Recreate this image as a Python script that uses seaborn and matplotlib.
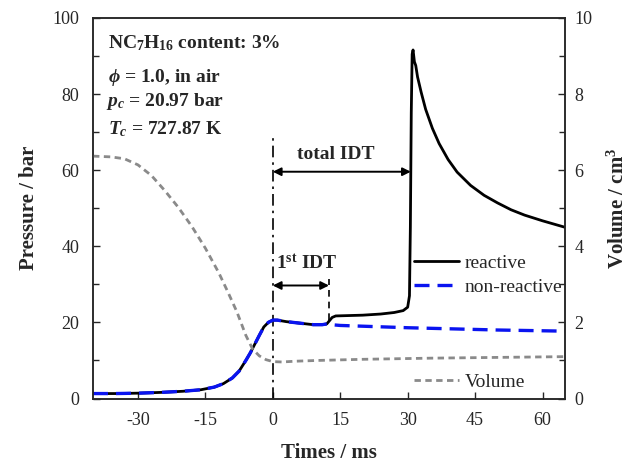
import numpy as np
import pandas as pd
import matplotlib
matplotlib.use("Agg")
import matplotlib.pyplot as plt
from matplotlib.ticker import MultipleLocator
from matplotlib.lines import Line2D
import seaborn as sns

# ---- data ----
# shared compression phase (reactive and non-reactive overlap)
t_comp = [-40, -35, -30, -25, -20, -16, -13, -11, -9, -7.5, -6, -5, -4, -3, -2, -1, 0,
          1, 3, 6, 9, 11, 12]
p_comp = [1.3, 1.3, 1.4, 1.6, 1.9, 2.3, 3.0, 3.9, 5.4, 7.2, 10.0, 12.0, 14.3, 16.6, 18.8, 20.0, 20.6,
          20.6, 20.2, 19.8, 19.4, 19.4, 19.6]
# reactive after first-stage ignition
t_react = [12.5, 13.2, 14, 17, 20, 24, 27, 29, 30, 30.4, 30.6, 30.8, 31.0, 31.2, 31.5, 31.8,
           32.2, 33, 34, 35.5, 37, 39, 41, 44, 47, 50, 53, 56, 60, 65]
p_react = [20.3, 21.3, 21.7, 21.8, 21.9, 22.2, 22.6, 23.1, 24.0, 27.0, 45.0, 75.0, 90.5, 91.6, 88.5, 87.5,
           84.5, 80.5, 76.0, 71.0, 67.0, 62.8, 59.5, 56.0, 53.4, 51.4, 49.6, 48.2, 46.7, 45.0]
# non-reactive after 12 ms
t_nonr = [13, 15, 20, 30, 40, 50, 65]
p_nonr = [19.4, 19.2, 19.0, 18.6, 18.3, 18.0, 17.7]
# volume (right axis)
t_vol = [-40, -36, -33, -30, -27, -24, -21, -18, -15, -12, -10, -8, -6, -4.5, -3, -1.5, 0,
         2, 5, 10, 20, 35, 50, 65]
v_vol = [6.37, 6.35, 6.30, 6.14, 5.86, 5.46, 5.02, 4.52, 3.95, 3.30, 2.80, 2.28, 1.66, 1.30, 1.12, 1.02, 0.97,
         0.96, 0.98, 1.00, 1.03, 1.06, 1.08, 1.10]

total_idt = 30.7
first_idt = 12.5

x_ticks = [-30, -15, 0, 15, 30, 45, 60]

df_react = pd.DataFrame({"t": t_comp + t_react, "p": p_comp + p_react})
df_nonr = pd.DataFrame({"t": t_comp + t_nonr, "p": p_comp + p_nonr})
df_vol = pd.DataFrame({"t": t_vol, "v": v_vol})

# ---- style ----
sns.set_style("ticks")
plt.rcParams["font.family"] = ["Liberation Serif", "DejaVu Serif"]
plt.rcParams["mathtext.fontset"] = "custom"
plt.rcParams["mathtext.rm"] = "Liberation Serif:bold"
plt.rcParams["mathtext.it"] = "Liberation Serif:bold:italic"
plt.rcParams["mathtext.bf"] = "Liberation Serif:bold"
plt.rcParams["axes.linewidth"] = 1.1
plt.rcParams["axes.unicode_minus"] = False

FS = 13
ANN = 14
LAB = 15

fig = plt.figure(figsize=(6.33, 4.63), dpi=100)
ax = fig.add_axes([93/633, 1-398.5/463, 472/633, 380.5/463])
ax2 = ax.twinx()

sns.lineplot(data=df_react, x="t", y="p", ax=ax, color="black", linewidth=2.0, sort=False)
sns.lineplot(data=df_nonr, x="t", y="p", ax=ax, color="#0a14f0", linewidth=2.4,
             linestyle=(0, (4.5, 2.4)), sort=False)
sns.lineplot(data=df_vol, x="t", y="v", ax=ax2, color="#8a8a8a", linewidth=2.0,
             linestyle=(0, (2.3, 1.6)), sort=False)

ax.set_xlim(-40, 65)
ax.set_ylim(0, 100)
ax2.set_ylim(0, 10)
ax.set_xticks(x_ticks)
ax.yaxis.set_major_locator(MultipleLocator(20))
ax.yaxis.set_minor_locator(MultipleLocator(10))
ax2.yaxis.set_major_locator(MultipleLocator(2))
ax2.yaxis.set_minor_locator(MultipleLocator(1))

ax.tick_params(axis="both", which="major", direction="in", length=5, width=1.0, labelsize=FS)
ax.tick_params(axis="y", which="minor", direction="in", length=4, width=1.0)
ax2.tick_params(axis="y", which="major", direction="in", length=5, width=1.0, labelsize=FS, pad=7)
ax2.tick_params(axis="y", which="minor", direction="in", length=4, width=1.0)
ax.tick_params(axis="x", which="major", pad=10)
ax.tick_params(axis="y", which="major", pad=10)

ax.set_xlabel("Times / ms", fontsize=LAB, fontweight="bold", labelpad=10)
ax.set_ylabel("Pressure / bar", fontsize=LAB, fontweight="bold", labelpad=9.5)
ax2.set_ylabel("Volume / cm$^3$", fontsize=LAB, fontweight="bold", labelpad=10.5)

# ---- annotations ----
ax.plot([0, 0], [0, 69], color="black", lw=1.2, linestyle=(0, (7, 3, 1.5, 3)), zorder=1)
ax.plot([first_idt, first_idt], [20.5, 31.5], color="black", lw=1.2, linestyle=(0, (4, 3)), zorder=1)
arrow_kw = dict(arrowstyle="<|-|>", color="black", lw=1.4, mutation_scale=12, shrinkA=0, shrinkB=0)
ax.annotate("", xy=(total_idt, 59.6), xytext=(0, 59.6), arrowprops=arrow_kw)
ax.annotate("", xy=(first_idt, 29.7), xytext=(0, 29.7), arrowprops=arrow_kw)
ax.text(14.0, 64.0, "total IDT", fontsize=ANN, fontweight="bold", ha="center", va="center")
ax.text(7.5, 35.4, "1$^{\\mathrm{st}}$ IDT", fontsize=ANN, fontweight="bold", ha="center", va="center")

tx = -36.6
ax.text(tx, 93.4, "NC$_{7}$H$_{16}$ content: 3%", fontsize=ANN, fontweight="bold", va="center", ha="left")
ax.text(tx, 84.4, "$\\phi$ = 1.0, in air", fontsize=ANN, fontweight="bold", va="center", ha="left")
ax.text(tx - 0.4, 78.0, "$p_c$ = 20.97 bar", fontsize=ANN, fontweight="bold", va="center", ha="left")
ax.text(tx, 70.7, "$T_c$ = 727.87 K", fontsize=ANN, fontweight="bold", va="center", ha="left")

# ---- legends ----
h1 = Line2D([], [], color="black", lw=2.0)
h2 = Line2D([], [], color="#0a14f0", lw=2.4, linestyle=(0, (4.5, 2.4)))
h3 = Line2D([], [], color="#8a8a8a", lw=2.0, linestyle=(0, (2.3, 1.6)))
leg1 = ax.legend([h1, h2], ["reactive", "non-reactive"], loc="upper left",
                 bbox_to_anchor=(0.68, 0.38), frameon=False, fontsize=ANN,
                 borderpad=0, borderaxespad=0, handlelength=2.3, handletextpad=0.3, labelspacing=0.35)
leg2 = ax2.legend([h3], ["Volume"], loc="upper left",
                  bbox_to_anchor=(0.68, 0.067), frameon=False, fontsize=ANN,
                  borderpad=0, borderaxespad=0, handlelength=2.3, handletextpad=0.3)

fig.savefig("out.png", dpi=100)
